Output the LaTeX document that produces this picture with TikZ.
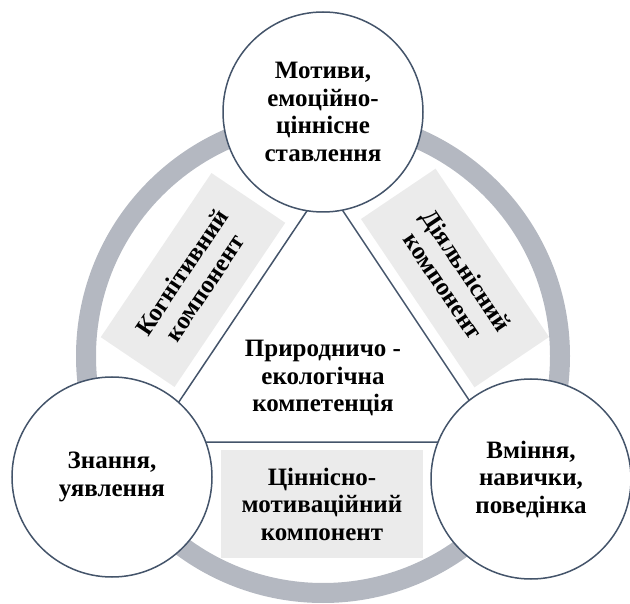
\documentclass[tikz,border=0pt]{standalone}
\usepackage{fontspec}
\setmainfont{Liberation Serif}
\usepackage{tikz}
\usepackage{xcolor}
\definecolor{ColLine}{RGB}{68,84,106}
\definecolor{ColRing}{RGB}{180,184,193}
\definecolor{ColBox}{RGB}{235,235,235}
\newcommand{\TextFont}{\fontsize{25}{27.5}\selectfont\bfseries}
\tikzstyle{NodeCircle}=[circle,draw=ColLine,fill=white,line width=1.5pt,minimum size=200pt,
inner sep=0pt,align=center,font=\TextFont]
\tikzstyle{NodeBox}=[fill=ColBox,inner sep=0pt,align=center,font=\TextFont]
\tikzstyle{EdgeTri}=[ColLine,line width=1.5pt]

\begin{document}
\begin{tikzpicture}[x=1pt,y=-1pt]
        \useasboundingbox(0,0)rectangle(630,604);
        \draw[ColRing,line width=20pt](323,356)circle(237pt);
        \node[NodeBox,minimum width=198pt,minimum height=89pt,rotate=56](cog)at(193,280){Когнітивний\\компонент};
        \node[NodeBox,minimum width=203pt,minimum height=90pt,rotate=-56](act)at(455,278){Діяльнісний\\компонент};
        \node[NodeBox,minimum width=202pt,minimum height=108pt](val)at(322,504){Ціннісно-\\мотиваційний\\компонент};
        \coordinate(ta)at(325,184);
        \coordinate(tl)at(152,442);
        \coordinate(tr)at(497,442);
        \draw[EdgeTri](ta)--(tl)--(tr)--cycle;
        \node[align=center,font=\TextFont](comp)at(323,378){Природничо -\\екологічна\\компетенція};
        \node[NodeCircle](mot)at(323,112){Мотиви,\\емоційно-\\ціннісне\\ставлення};
        \node[NodeCircle](know)at(112,477){Знання,\\уявлення};
        \node[NodeCircle](skill)at(531,479){Вміння,\\навички,\\поведінка};
    \end{tikzpicture}
\end{document}
